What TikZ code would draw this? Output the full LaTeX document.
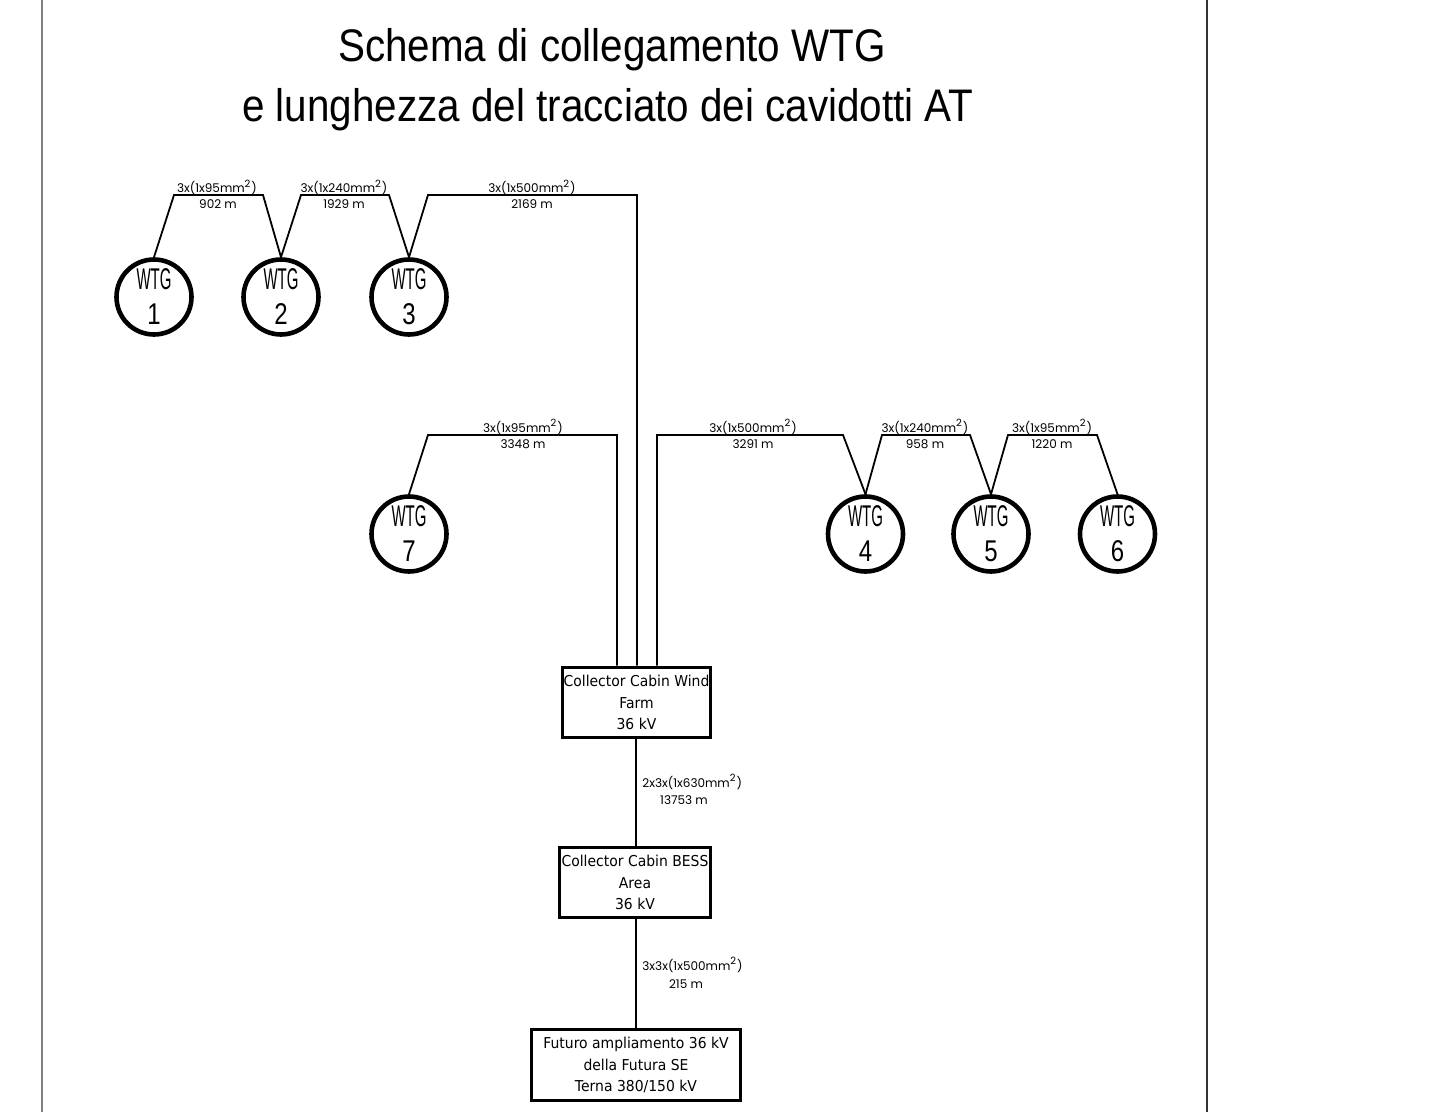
\documentclass[tikz,border=0pt]{standalone}
\usepackage{fontspec}
\usepackage{graphicx}
\setmainfont{Liberation Sans}
\newfontfamily\titlefont{Liberation Sans}
\newfontfamily\cablefont{Poppins}
\newfontfamily\cabinfont{DejaVu Sans}
\newfontfamily\wtgfont{Liberation Sans}
\newcommand{\wtgtext}[1]{\scalebox{0.5}[1]{WTG}\\\scalebox{0.8}[1]{#1}}
\newcommand{\cabln}[1]{\scalebox{0.93}[1]{#1}}
\newcommand{\ttl}[1]{\scalebox{1}[1.13]{#1}}
\begin{document}
\begin{tikzpicture}[x=0.5pt,y=-0.5pt,
  wtg/.style={circle, draw, line width=2.3pt, minimum size=37.5pt, inner sep=0pt, align=center,
    font=\wtgfont\fontsize{15}{17.5}\selectfont},
  cabin/.style={draw, line width=1.9pt, inner sep=0pt, align=center,
    font=\cabinfont\fontsize{7.5}{10.6}\selectfont},
  cable/.style={line width=0.9pt},
  spec/.style={font=\cablefont\fontsize{6}{7}\selectfont, inner sep=0pt, anchor=base},
  spectl/.style={spec, anchor=base west},
  framel/.style={line width=1pt, draw=black!50},
  framer/.style={line width=1pt, draw=black!80},
  titletext/.style={font=\titlefont\fontsize{20.2}{24}\selectfont, inner sep=0pt, anchor=base}]
\useasboundingbox (0,0) rectangle (1439,1112);
\fill[white] (0,0) rectangle (1439,1112);
% frame lines
\coordinate (fl1) at (41.5,0); \coordinate (fl2) at (41.5,1112);
\coordinate (fr1) at (1207,0); \coordinate (fr2) at (1207,1112);
\draw[framel] (fl1) -- (fl2);
\draw[framer] (fr1) -- (fr2);
% title
\node[titletext] (title1) at (612,62) {\ttl{Schema di collegamento WTG}};
\node[titletext] (title2) at (608,122) {\ttl{e lunghezza del tracciato dei cavidotti AT}};
% WTGs
\node[wtg] (w1) at (154,297) {\wtgtext{1}};
\node[wtg] (w2) at (281,297) {\wtgtext{2}};
\node[wtg] (w3) at (409,297) {\wtgtext{3}};
\node[wtg] (w7) at (409,534) {\wtgtext{7}};
\node[wtg] (w4) at (865.5,534) {\wtgtext{4}};
\node[wtg] (w5) at (991,534) {\wtgtext{5}};
\node[wtg] (w6) at (1117.5,534) {\wtgtext{6}};
% cabins
\node[cabin, minimum width=74pt, minimum height=35pt] (cw) at (636.5,702.5) {\cabln{Collector Cabin Wind}\\\cabln{Farm}\\\cabln{36 kV}};
\node[cabin, minimum width=75.5pt, minimum height=35pt] (cb) at (635,882.5) {\cabln{Collector Cabin BESS}\\\cabln{Area}\\\cabln{36 kV}};
\node[cabin, minimum width=104.5pt, minimum height=35.5pt] (fs) at (636,1065) {\cabln{Futuro ampliamento 36 kV}\\\cabln{della Futura SE}\\\cabln{Terna 380/150 kV}};
% top row connectors
\coordinate (t3) at (637,195);
\draw[cable] (w1.north) -- (174,195) -- (263,195) -- (w2.north);
\draw[cable] (w2.north) -- (301,195) -- (389,195) -- (w3.north);
\draw[cable] (w3.north) -- (428,195) -- (t3) -- (t3 |- cw.north);
% middle row connectors
\coordinate (t7) at (617,435);
\coordinate (t4) at (657,435);
\coordinate (tv) at (636,0);
\draw[cable] (w7.north) -- (428,435) -- (t7) -- (t7 |- cw.north);
\draw[cable] (t4 |- cw.north) -- (t4) -- (843,435) -- (w4.north);
\draw[cable] (w4.north) -- (882,435) -- (970,435) -- (w5.north);
\draw[cable] (w5.north) -- (1008,435) -- (1097,435) -- (w6.north);
% trunk connectors
\draw[cable] (tv |- cw.south) -- (tv |- cb.north);
\draw[cable] (tv |- cb.south) -- (tv |- fs.north);
% cable labels
\node[spec] (s12a) at (217,192.5) {3x(1x95mm\textsuperscript{2})};
\node[spec] (s12b) at (218,208.5) {902 m};
\node[spec] (s23a) at (344,192.5) {3x(1x240mm\textsuperscript{2})};
\node[spec] (s23b) at (344,208.5) {1929 m};
\node[spec] (s3ca) at (532,192.5) {3x(1x500mm\textsuperscript{2})};
\node[spec] (s3cb) at (532,208.5) {2169 m};
\node[spec] (s7a) at (523,432) {3x(1x95mm\textsuperscript{2})};
\node[spec] (s7b) at (523,448) {3348 m};
\node[spec] (s4a) at (753,432) {3x(1x500mm\textsuperscript{2})};
\node[spec] (s4b) at (753,448) {3291 m};
\node[spec] (s45a) at (925,432) {3x(1x240mm\textsuperscript{2})};
\node[spec] (s45b) at (925,448) {958 m};
\node[spec] (s56a) at (1052,432) {3x(1x95mm\textsuperscript{2})};
\node[spec] (s56b) at (1052,448) {1220 m};
\node[spectl] (scwa) at (642,787) {2x3x(1x630mm\textsuperscript{2})};
\node[spec] (scwb) at (684,804) {13753 m};
\node[spectl] (scba) at (642,970) {3x3x(1x500mm\textsuperscript{2})};
\node[spec] (scbb) at (686,988) {215 m};
\end{tikzpicture}
\end{document}
